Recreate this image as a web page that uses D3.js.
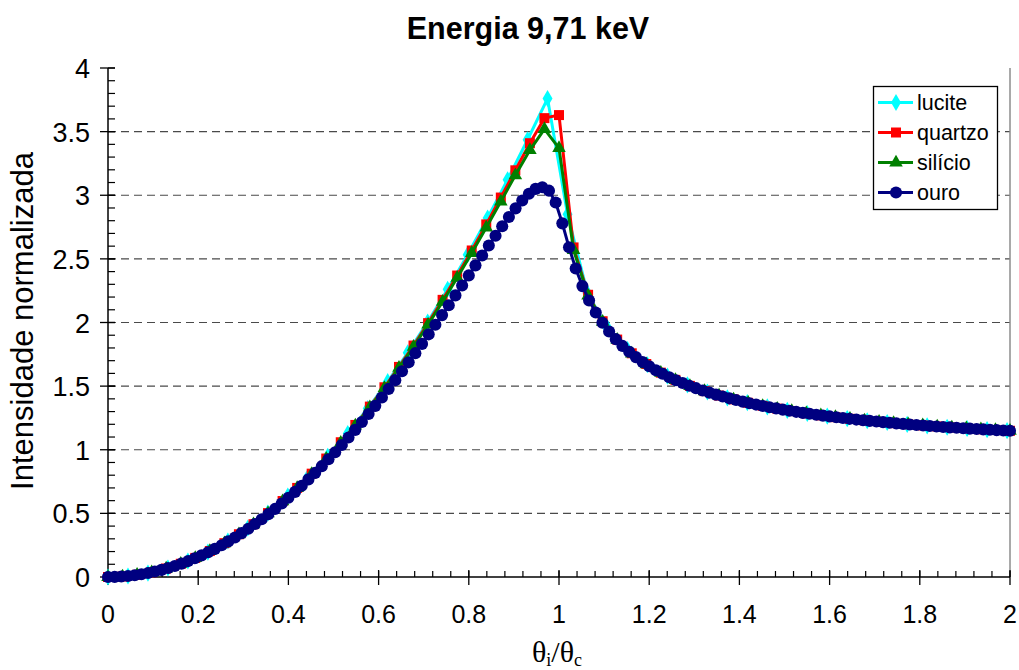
<!DOCTYPE html>
<html><head><meta charset="utf-8">
<script src="https://cdn.jsdelivr.net/npm/d3@7"></script>
<style>
body{margin:0;background:#fff;}
svg{display:block;}
text{font-family:"Liberation Sans",Arial,sans-serif;fill:#000;}
</style>
</head><body>
<svg id="chart" width="1019" height="670"></svg>
<script>
const titleText = "Energia 9,71 keV";
const yTitle = "Intensidade normalizada";
const seriesNames = ["lucite","quartzo","silício","ouro"];
const xTicks = [0,0.2,0.4,0.6,0.8,1,1.2,1.4,1.6,1.8,2];
const xTickLabels = ["0","0.2","0.4","0.6","0.8","1","1.2","1.4","1.6","1.8","2"];
const yTicks = [0,0.5,1,1.5,2,2.5,3,3.5,4];
const yTickLabels = ["0","0.5","1","1.5","2","2.5","3","3.5","4"];
const yGrid = [0.5,1,1.5,2,2.5,3,3.5];

const xLucite = [0,0.0443,0.0886,0.1329,0.1772,0.2215,0.2658,0.3101,0.3544,0.3987,
0.443,0.4873,0.5316,0.5759,0.6202,0.6645,0.7088,0.7531,0.7974,0.8417,
0.886,0.9303,0.9746,1.0189,1.0632,1.1075,1.1518,1.1961,1.2404,1.2847,
1.329,1.3733,1.4176,1.4619,1.5062,1.5505,1.5948,1.6391,1.6834,1.7277,
1.772,1.8163,1.8606,1.9049,1.9492,1.9935];
const yLucite = [0,0.008,0.031,0.071,0.126,0.196,0.283,0.385,0.502,0.635,
0.784,0.948,1.128,1.324,1.535,1.762,2.004,2.261,2.533,2.821,
3.122,3.436,3.760,2.850,2.229,1.957,1.787,1.668,1.579,1.510,
1.454,1.408,1.370,1.337,1.309,1.285,1.264,1.245,1.228,1.214,
1.200,1.188,1.177,1.167,1.158,1.150];

const xQuartzo = [0,0.0323,0.0645,0.0968,0.129,0.1613,0.1935,0.2258,0.2581,0.2903,
0.3226,0.3548,0.3871,0.4194,0.4516,0.4839,0.5161,0.5484,0.5806,0.6129,
0.6452,0.6774,0.7097,0.7419,0.7742,0.8065,0.8387,0.871,0.9032,0.9355,
0.9677,1,1.0323,1.0645,1.0968,1.129,1.1613,1.1935,1.2258,1.2581,
1.2903,1.3226,1.3548,1.3871,1.4194,1.4516,1.4839,1.5161,1.5484,1.5806,
1.6129,1.6452,1.6774,1.7097,1.7419,1.7742,1.8065,1.8387,1.871,1.9032,
1.9355,1.9677,2];
const yQuartzo = [0,0.004,0.017,0.037,0.067,0.104,0.150,0.204,0.266,0.336,
0.415,0.502,0.597,0.700,0.812,0.931,1.059,1.195,1.339,1.491,
1.651,1.819,1.995,2.178,2.369,2.566,2.771,2.982,3.196,3.409,
3.606,3.630,2.590,2.218,2.010,1.866,1.758,1.674,1.606,1.549,
1.502,1.461,1.426,1.396,1.369,1.345,1.323,1.304,1.286,1.270,
1.256,1.243,1.231,1.220,1.209,1.200,1.191,1.183,1.175,1.168,
1.161,1.155,1.149];

const xSilicio = [0,0.0323,0.0645,0.0968,0.129,0.1613,0.1935,0.2258,0.2581,0.2903,
0.3226,0.3548,0.3871,0.4194,0.4516,0.4839,0.5161,0.5484,0.5806,0.6129,
0.6452,0.6774,0.7097,0.7419,0.7742,0.8065,0.8387,0.871,0.9032,0.9355,
0.9677,1,1.0323,1.0645,1.0968,1.129,1.1613,1.1935,1.2258,1.2581,
1.2903,1.3226,1.3548,1.3871,1.4194,1.4516,1.4839,1.5161,1.5484,1.5806,
1.6129,1.6452,1.6774,1.7097,1.7419,1.7742,1.8065,1.8387,1.871,1.9032,
1.9355,1.9677,2];
const ySilicio = [0,0.004,0.017,0.037,0.066,0.104,0.149,0.203,0.265,0.336,
0.414,0.501,0.595,0.698,0.809,0.928,1.055,1.190,1.333,1.484,
1.643,1.809,1.983,2.163,2.351,2.546,2.746,2.951,3.157,3.355,
3.520,3.370,2.570,2.212,2.006,1.863,1.756,1.672,1.605,1.548,
1.501,1.460,1.425,1.395,1.368,1.344,1.322,1.303,1.286,1.270,
1.256,1.243,1.230,1.219,1.209,1.200,1.191,1.182,1.175,1.168,
1.161,1.155,1.149];

const xOuro = [0,0.0148,0.0296,0.0444,0.0593,0.0741,0.0889,0.1037,0.1185,0.1333,
0.1481,0.163,0.1778,0.1926,0.2074,0.2222,0.237,0.2519,0.2667,0.2815,
0.2963,0.3111,0.3259,0.3407,0.3556,0.3704,0.3852,0.4,0.4148,0.4296,
0.4444,0.4593,0.4741,0.4889,0.5037,0.5185,0.5333,0.5481,0.563,0.5778,
0.5926,0.6074,0.6222,0.637,0.6519,0.6667,0.6815,0.6963,0.7111,0.7259,
0.7407,0.7556,0.7704,0.7852,0.8,0.8148,0.8296,0.8444,0.8593,0.8741,
0.8889,0.9037,0.9185,0.9333,0.9481,0.963,0.9778,0.9926,1.0074,1.0222,
1.037,1.0519,1.0667,1.0815,1.0963,1.1111,1.1259,1.1407,1.1556,1.1704,
1.1852,1.2,1.2148,1.2296,1.2444,1.2593,1.2741,1.2889,1.3037,1.3185,
1.3333,1.3481,1.363,1.3778,1.3926,1.4074,1.4222,1.437,1.4519,1.4667,
1.4815,1.4963,1.5111,1.5259,1.5407,1.5556,1.5704,1.5852,1.6,1.6148,
1.6296,1.6444,1.6593,1.6741,1.6889,1.7037,1.7185,1.7333,1.7481,1.763,
1.7778,1.7926,1.8074,1.8222,1.837,1.8519,1.8667,1.8815,1.8963,1.9111,
1.9259,1.9407,1.9556,1.9704,1.9852,2];
const yOuro = [0,0.001,0.004,0.008,0.014,0.022,0.031,0.043,0.056,0.071,
0.087,0.105,0.125,0.147,0.170,0.195,0.221,0.250,0.280,0.311,
0.345,0.379,0.416,0.454,0.494,0.535,0.578,0.623,0.669,0.717,
0.767,0.818,0.871,0.925,0.980,1.037,1.096,1.156,1.218,1.281,
1.345,1.411,1.478,1.547,1.617,1.687,1.759,1.832,1.907,1.982,
2.058,2.135,2.213,2.291,2.370,2.449,2.527,2.605,2.682,2.756,
2.829,2.897,2.959,3.012,3.050,3.063,3.036,2.943,2.779,2.591,
2.424,2.286,2.173,2.078,1.998,1.929,1.869,1.816,1.770,1.728,
1.690,1.656,1.625,1.597,1.570,1.546,1.524,1.503,1.484,1.466,
1.449,1.433,1.418,1.404,1.391,1.378,1.366,1.355,1.344,1.334,
1.325,1.315,1.307,1.298,1.290,1.283,1.275,1.268,1.262,1.255,
1.249,1.243,1.237,1.232,1.227,1.222,1.217,1.212,1.207,1.203,
1.199,1.195,1.191,1.187,1.183,1.179,1.176,1.173,1.169,1.166,
1.163,1.160,1.157,1.154,1.151,1.149];

const seriesColors = ["#00FFFF","#FF0000","#008000","#000080"];

// ---- build ----
const series = [
  {name: seriesNames[0], xs: xLucite, ys: yLucite, color: seriesColors[0], sym: d3.symbolDiamond, size: 85},
  {name: seriesNames[1], xs: xQuartzo, ys: yQuartzo, color: seriesColors[1], sym: d3.symbolSquare, size: 100},
  {name: seriesNames[2], xs: xSilicio, ys: ySilicio, color: seriesColors[2], sym: d3.symbolTriangle, size: 80},
  {name: seriesNames[3], xs: xOuro, ys: yOuro, color: seriesColors[3], sym: d3.symbolCircle, size: 115}
];
series.forEach(s => { if (s.xs.length !== s.ys.length) throw new Error(s.name + " length mismatch " + s.xs.length + " vs " + s.ys.length); });

const svg = d3.select("#chart");
const x = d3.scaleLinear().domain([0, 2]).range([108, 1010]);
const y = d3.scaleLinear().domain([0, 4]).range([577, 68]);

// gridlines
svg.append("g").selectAll("line").data(yGrid).join("line")
  .attr("x1", x(0)).attr("x2", x(2))
  .attr("y1", d => y(d)).attr("y2", d => y(d))
  .attr("stroke", "#4a4a4a").attr("stroke-width", 1.2)
  .attr("stroke-dasharray", "8,5");

// right border of plot area
svg.append("line").attr("x1", x(2)).attr("x2", x(2)).attr("y1", y(4)).attr("y2", y(0))
  .attr("stroke", "#8c8c8c").attr("stroke-width", 1.5);

// axes
const axG = svg.append("g");
const xMinor = d3.range(0, 51).map(i => i * 0.04);
const yMinor = d3.range(0, 41).map(i => i * 0.1);
axG.selectAll(".xm").data(xMinor).join("line")
  .attr("x1", d => x(d)).attr("x2", d => x(d)).attr("y1", y(0)).attr("y2", y(0) - 6)
  .attr("stroke", "#000").attr("stroke-width", 1.2);
axG.selectAll(".ym").data(yMinor).join("line")
  .attr("x1", x(0)).attr("x2", x(0) + 7).attr("y1", d => y(d)).attr("y2", d => y(d))
  .attr("stroke", "#000").attr("stroke-width", 1.2);
axG.selectAll(".xM").data(xTicks).join("line")
  .attr("x1", d => x(d)).attr("x2", d => x(d)).attr("y1", y(0) - 7).attr("y2", y(0) + 8)
  .attr("stroke", "#000").attr("stroke-width", 1.3);
axG.selectAll(".yM").data(yTicks).join("line")
  .attr("x1", x(0) - 8).attr("x2", x(0) + 7).attr("y1", d => y(d)).attr("y2", d => y(d))
  .attr("stroke", "#000").attr("stroke-width", 1.3);
axG.append("line").attr("x1", x(0)).attr("x2", x(2)).attr("y1", y(0)).attr("y2", y(0))
  .attr("stroke", "#000").attr("stroke-width", 1.5);
axG.append("line").attr("x1", x(0)).attr("x2", x(0)).attr("y1", y(0)).attr("y2", y(4))
  .attr("stroke", "#000").attr("stroke-width", 1.5);

// tick labels
svg.append("g").selectAll("text").data(xTicks).join("text")
  .attr("x", d => x(d)).attr("y", 623)
  .attr("text-anchor", "middle").attr("font-size", 25)
  .text((d, i) => xTickLabels[i]);
svg.append("g").selectAll("text").data(yTicks).join("text")
  .attr("x", 90).attr("y", d => y(d) + 10)
  .attr("text-anchor", "end").attr("font-size", 27)
  .text((d, i) => yTickLabels[i]);

// series
const line = d3.line();
series.forEach(s => {
  const pts = s.xs.map((v, i) => [x(v), y(s.ys[i])]);
  const g = svg.append("g");
  g.append("path").attr("d", line(pts)).attr("fill", "none")
    .attr("stroke", s.color).attr("stroke-width", 3).attr("stroke-linejoin", "round");
  const sym = d3.symbol().type(s.sym).size(s.size);
  g.selectAll("path.m").data(pts).join("path").attr("class", "m")
    .attr("transform", d => `translate(${d[0]},${d[1]})`)
    .attr("d", sym()).attr("fill", s.color);
});

// title
svg.append("text").attr("x", 528).attr("y", 39).attr("text-anchor", "middle")
  .attr("font-size", 30.5).attr("font-weight", "bold").text(titleText);

// y title
svg.append("text").attr("transform", "translate(33,321) rotate(-90)")
  .attr("text-anchor", "middle").attr("font-size", 31).text(yTitle);

// x title θi/θc
const xt = svg.append("text").attr("x", 557).attr("y", 662).attr("text-anchor", "middle")
  .style("font-family", "'Liberation Serif','Times New Roman',serif").attr("font-size", 30);
xt.append("tspan").text("θ");
xt.append("tspan").attr("font-size", 18).attr("dy", 4).text("i");
xt.append("tspan").attr("dy", -4).text("/θ");
xt.append("tspan").attr("font-size", 18).attr("dy", 4).text("c");

// legend
const lg = svg.append("g");
lg.append("rect").attr("x", 873.5).attr("y", 86.5).attr("width", 124).attr("height", 123)
  .attr("fill", "#fff").attr("stroke", "#000").attr("stroke-width", 1.3);
series.forEach((s, i) => {
  const cy = 102.5 + i * 30;
  lg.append("line").attr("x1", 878).attr("x2", 913).attr("y1", cy).attr("y2", cy)
    .attr("stroke", s.color).attr("stroke-width", 3);
  lg.append("path").attr("transform", `translate(896,${cy})`)
    .attr("d", d3.symbol().type(s.sym).size(s.size)()).attr("fill", s.color);
  lg.append("text").attr("x", 917).attr("y", cy + 7.5).attr("font-size", 21.5).text(s.name);
});
</script>
</body></html>
